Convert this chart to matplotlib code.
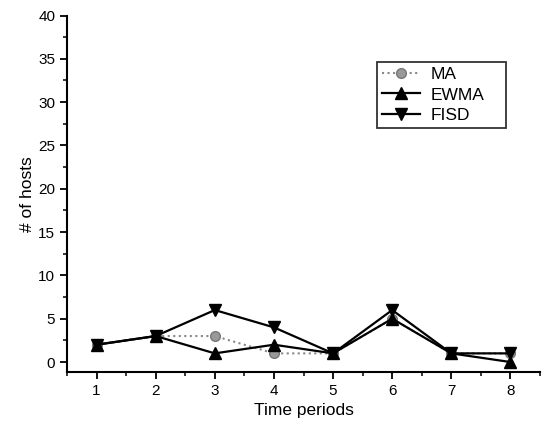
import matplotlib
matplotlib.use('Agg')
import matplotlib.pyplot as plt
from matplotlib.ticker import MultipleLocator

plt.rcParams['font.family'] = ['Liberation Sans', 'DejaVu Sans']

periods = [1, 2, 3, 4, 5, 6, 7, 8]
ma = [2, 3, 3, 1, 1, 5, 1, 1]
ewma = [2, 3, 1, 2, 1, 5, 1, 0]
fisd = [2, 3, 6, 4, 1, 6, 1, 1]

fig = plt.figure(figsize=(5.44, 4.3), dpi=100)
ax = fig.add_axes([67 / 544, 58 / 430, 473 / 544, 356.5 / 430])

ax.plot(periods, ma, color='#888888', linestyle=':', linewidth=1.5, marker='o',
        markersize=7, markerfacecolor='#999999', markeredgecolor='#777777', label='MA', zorder=2)
ax.plot(periods, ewma, color='black', linewidth=1.6, marker='^', markersize=8, label='EWMA', zorder=3)
ax.plot(periods, fisd, color='black', linewidth=1.6, marker='v', markersize=8, label='FISD', zorder=3)

ax.set_xlim(0.5, 8.5)
ax.set_ylim(-1.15, 40)
ax.xaxis.set_major_locator(MultipleLocator(1))
ax.xaxis.set_minor_locator(MultipleLocator(0.5))
ax.yaxis.set_major_locator(MultipleLocator(5))
ax.yaxis.set_minor_locator(MultipleLocator(2.5))
ax.spines['top'].set_visible(False)
ax.spines['right'].set_visible(False)
for s in ('left', 'bottom'):
    ax.spines[s].set_linewidth(1.5)
ax.tick_params(which='major', direction='out', length=5, width=1.3, labelsize=11)
ax.tick_params(which='minor', direction='out', length=3, width=1.1)

ax.set_xlabel('Time periods', fontsize=12.5, labelpad=4)
ax.set_ylabel('# of hosts', fontsize=12.5, labelpad=2)

leg = ax.legend(loc='upper left', bbox_to_anchor=(0.655, 0.87, 0.273, 0.0), mode='expand',
                frameon=True, fancybox=False, edgecolor='black', fontsize=12.5,
                handlelength=2.2, handletextpad=0.6, borderpad=0.3,
                labelspacing=0.3, borderaxespad=0)
leg.get_frame().set_linewidth(1.3)

fig.savefig('out.png', dpi=100)
